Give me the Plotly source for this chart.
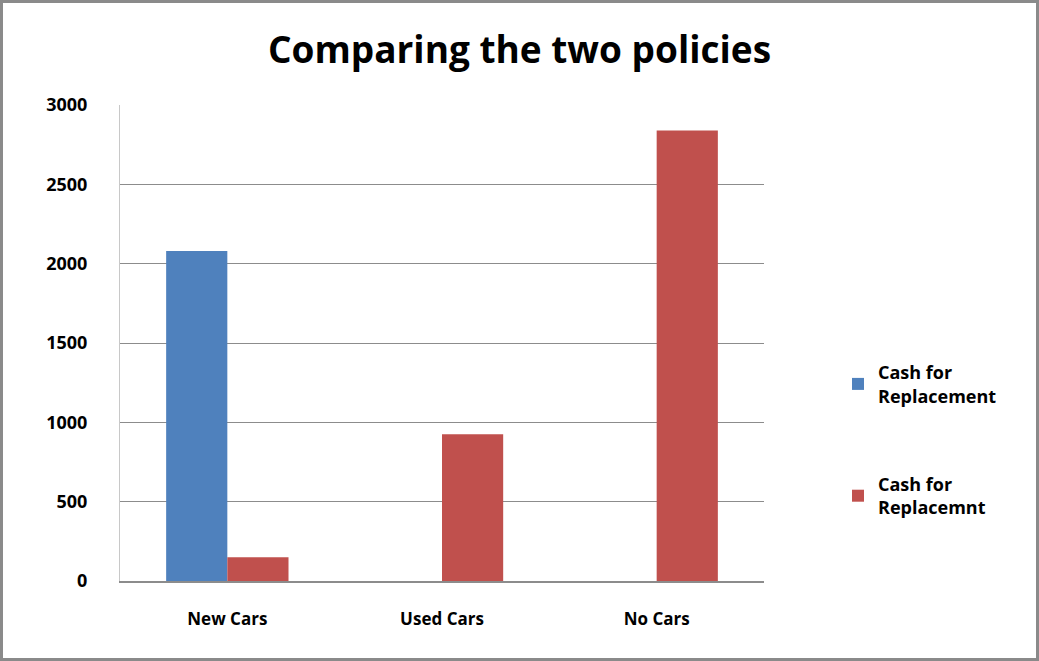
import plotly.graph_objects as go

categories = ["New Cars", "Used Cars", "No Cars"]
series_names = ["Cash for<br>Replacement", "Cash for<br>Replacemnt"]
blue_values = [2080, 0, 0]
red_values = [150, 925, 2840]
y_ticks = [0, 500, 1000, 1500, 2000, 2500, 3000]

W, H = 1039, 661
L, R, T, B = 120, 275, 105, 80
FONT = "Open Sans"

fig = go.Figure()
fig.add_trace(go.Bar(x=categories, y=blue_values, name=series_names[0],
                     marker=dict(color="#4F81BD", line=dict(width=0)),
                     legendgroup="a"))
fig.add_trace(go.Bar(x=categories, y=red_values, name=series_names[1],
                     marker=dict(color="#C0504D", line=dict(width=0)),
                     legendgroup="b"))

pw, ph = W - L - R, H - T - B
def px_x(x):
    return (x - L) / pw
def px_y(y):
    return (H - B - y) / ph

fig.update_layout(
    width=W, height=H,
    margin=dict(l=L, r=R, t=T, b=B),
    paper_bgcolor="white", plot_bgcolor="white",
    barmode="group", bargap=0.43, bargroupgap=0,
    title=dict(text="<b>Comparing the two policies</b>", x=0.5, xanchor="center",
               y=1 - 50 / H, yanchor="middle",
               font=dict(family=FONT, size=37, color="black")),
    font=dict(family=FONT, color="black"),
    xaxis=dict(showgrid=False, showline=True, linecolor="#8C8C8C", linewidth=2,
               ticks="", tickfont=dict(size=17, family=FONT, weight="bold"),
               ticklabelstandoff=22),
    yaxis=dict(range=[0, 3000], tickvals=y_ticks, showgrid=True, gridcolor="#8C8C8C",
               gridwidth=1, showline=True, linecolor="#C8C8C8", linewidth=1,
               ticks="", tickfont=dict(size=18, family=FONT, weight="bold"),
               ticklabelstandoff=28, zeroline=False),
    legend=dict(x=px_x(838), y=px_y(354), xanchor="left", yanchor="top",
                font=dict(size=18, family=FONT, weight="bold"), tracegroupgap=62,
                bgcolor="rgba(0,0,0,0)", itemwidth=30),
    showlegend=True,
)

# Gray frame around the whole chart
fig.add_shape(type="rect", xref="paper", yref="paper",
              x0=px_x(1.5), x1=px_x(W - 1.5), y0=px_y(H - 1.5), y1=px_y(1.5),
              line=dict(color="#8A8A8A", width=3), fillcolor="rgba(0,0,0,0)",
              layer="above")

fig.write_html("out.html")
